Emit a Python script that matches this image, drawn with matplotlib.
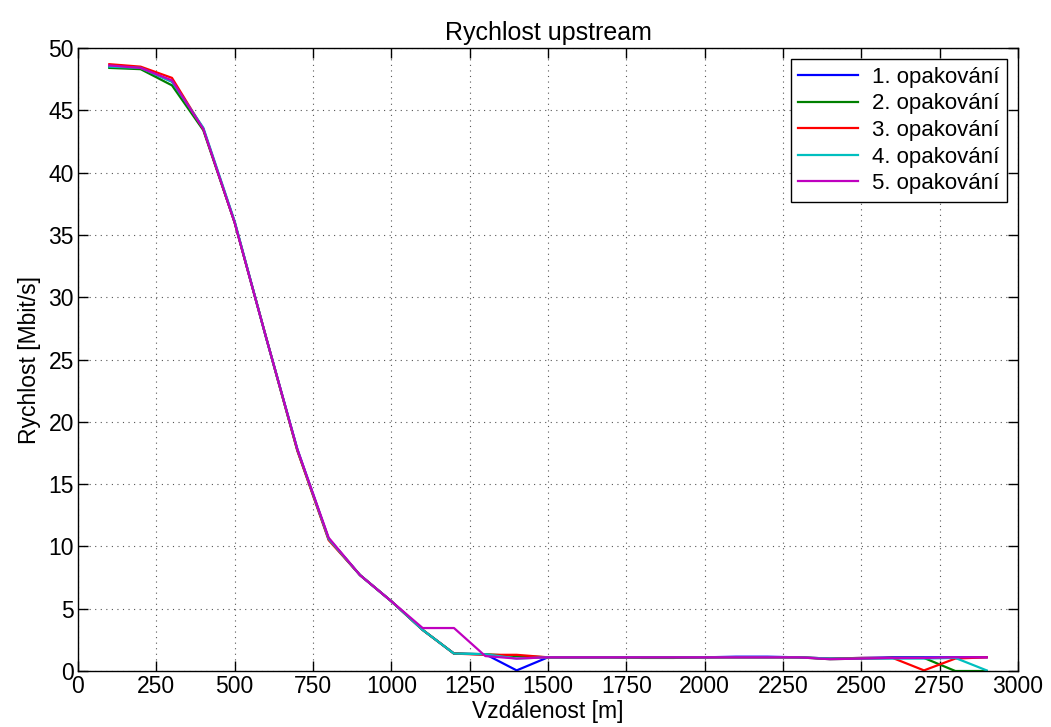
import matplotlib
matplotlib.use("Agg")
import matplotlib.pyplot as plt
from matplotlib.ticker import MultipleLocator

plt.rcParams['font.family'] = ['Liberation Sans', 'DejaVu Sans']

distance = list(range(100, 3000, 100))

rep1 = [48.5, 48.4, 47.3, 43.5, 36.0, 26.8, 17.8, 10.6, 7.7, 5.6, 3.3, 1.4, 1.35, 0.05, 1.1,
        1.1, 1.1, 1.1, 1.1, 1.1, 1.15, 1.15, 1.1, 1.0, 1.05, 1.1, 1.1, 1.1, 1.1]
rep2 = [48.4, 48.3, 47.0, 43.4, 36.0, 26.8, 17.7, 10.6, 7.7, 5.6, 3.3, 1.4, 1.35, 1.2, 1.1,
        1.1, 1.1, 1.05, 1.05, 1.1, 1.1, 1.1, 1.1, 0.95, 1.0, 1.05, 1.05, 0.0, 0.0]
rep3 = [48.7, 48.5, 47.6, 43.5, 36.0, 26.8, 17.7, 10.5, 7.7, 5.6, 3.3, 1.4, 1.3, 1.3, 1.1,
        1.1, 1.1, 1.1, 1.1, 1.1, 1.1, 1.1, 1.1, 1.0, 1.05, 1.05, 0.05, 1.0, 1.1]
rep4 = [48.5, 48.4, 47.3, 43.6, 36.1, 26.8, 17.8, 10.6, 7.7, 5.6, 3.3, 1.4, 1.35, 1.0, 1.1,
        1.1, 1.1, 1.1, 1.1, 1.1, 1.1, 1.1, 1.1, 1.0, 1.0, 1.0, 1.0, 1.05, 0.05]
rep5 = [48.6, 48.4, 47.4, 43.5, 36.0, 26.8, 17.8, 10.7, 7.7, 5.6, 3.45, 3.45, 1.2, 1.0, 1.1,
        1.1, 1.1, 1.1, 1.1, 1.1, 1.1, 1.1, 1.1, 0.95, 1.0, 1.05, 1.05, 1.1, 1.1]

labels = ['1. opakování', '2. opakování', '3. opakování', '4. opakování', '5. opakování']
colors = ['#0000ff', '#008000', '#ff0000', '#00bfbf', '#bf00bf']
series = [rep1, rep2, rep3, rep4, rep5]

fig = plt.figure(figsize=(10.51, 7.27), dpi=100)
ax = fig.add_axes([0.0742, 0.077, 0.8944, 0.857])

for s, c, l in zip(series, colors, labels):
    ax.plot(distance, s, color=c, lw=1.6, label=l)

ax.set_xlim(0, 3000)
ax.set_ylim(0, 50)
ax.xaxis.set_major_locator(MultipleLocator(250))
ax.yaxis.set_major_locator(MultipleLocator(5))
ax.grid(True, linestyle=(0, (1, 4)), color='#555555', linewidth=0.8)
ax.tick_params(direction='in', top=True, right=True, length=7, width=1, labelsize=16.5)
ax.tick_params(axis='x', pad=3)
ax.tick_params(axis='y', pad=3)
for sp in ax.spines.values():
    sp.set_linewidth(1.0)

ax.set_title('Rychlost upstream', fontsize=18, pad=6)
ax.set_xlabel('Vzdálenost [m]', fontsize=16.5, labelpad=1)
ax.set_ylabel('Rychlost [Mbit/s]', fontsize=16.5, labelpad=5)

leg = ax.legend(loc='upper right', fontsize=16, fancybox=False, framealpha=1,
                edgecolor='black', handlelength=2.7, borderaxespad=0.5,
                labelspacing=0.25, borderpad=0.35, handletextpad=0.6)
leg.get_frame().set_linewidth(1.0)

fig.savefig('out.png', dpi=100)
